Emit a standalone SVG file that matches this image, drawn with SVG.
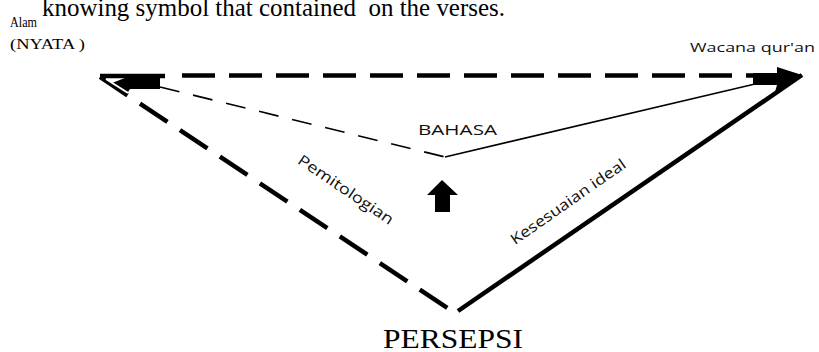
<svg xmlns="http://www.w3.org/2000/svg" width="819" height="352" viewBox="0 0 819 352">
<style>
.serif{font-family:"Liberation Serif","Times New Roman",serif;fill:#000}
.sans{font-family:"Open Sans","Liberation Sans",sans-serif;fill:#111}
.thick{stroke:#000;stroke-width:4.5;fill:none}
.thin{stroke:#000;stroke-width:1.6;fill:none}
</style>
<rect width="819" height="352" fill="#fff"/>
<text class="serif" x="42" y="16" font-size="26" textLength="463" lengthAdjust="spacingAndGlyphs" xml:space="preserve">knowing symbol that contained  on the verses.</text>
<g id="alam">
<text class="serif" x="10" y="27" font-size="14" textLength="27" lengthAdjust="spacingAndGlyphs">Alam</text>
<text class="serif" x="10" y="49" font-size="14" textLength="75" lengthAdjust="spacingAndGlyphs" xml:space="preserve">(NYATA )</text>
</g>
<g id="wacana">
<text class="sans" x="690" y="52" font-size="13" textLength="125" lengthAdjust="spacingAndGlyphs">Wacana qur'an</text>
</g>
<g id="bahasa">
<text class="sans" x="418" y="135" font-size="14" textLength="79" lengthAdjust="spacingAndGlyphs">BAHASA</text>
</g>
<g id="persepsi">
<text class="serif" x="383" y="348" font-size="27" textLength="140" lengthAdjust="spacingAndGlyphs">PERSEPSI</text>
</g>
<g id="connectors">
<line class="thick" x1="182" y1="75.5" x2="753" y2="75.5" stroke-dasharray="33 14"/>
<line class="thick" x1="100" y1="76" x2="165" y2="76"/>
<line class="thick" x1="100" y1="77" x2="452" y2="311" stroke-dasharray="33 15"/>
<line class="thick" x1="458" y1="311" x2="802" y2="75"/>
<line class="thin" x1="160" y1="87" x2="445" y2="157" stroke-dasharray="20 14"/>
<line class="thin" x1="445" y1="157" x2="755" y2="84"/>
<polygon points="112,83 130,76 160,77 160,89 130,89 128,92" fill="#000"/>
<line x1="106" y1="79" x2="128" y2="93" stroke="#fff" stroke-width="2"/>
<polygon points="753,73 777,73 777,67 802,75 775,92 777,85 753,85" fill="#000"/>
<polygon points="442,180 458,195 450,195 450,212 435,212 435,195 427,195" fill="#000"/>
<g transform="translate(343,194) rotate(34)">
<text class="sans" x="0" y="0" font-size="15" text-anchor="middle" textLength="112" lengthAdjust="spacingAndGlyphs">Pemitologian</text>
</g>
<g transform="translate(571,206) rotate(-35)">
<text class="sans" x="0" y="0" font-size="15" text-anchor="middle" textLength="137" lengthAdjust="spacingAndGlyphs">Kesesuaian ideal</text>
</g>
</g>
</svg>
